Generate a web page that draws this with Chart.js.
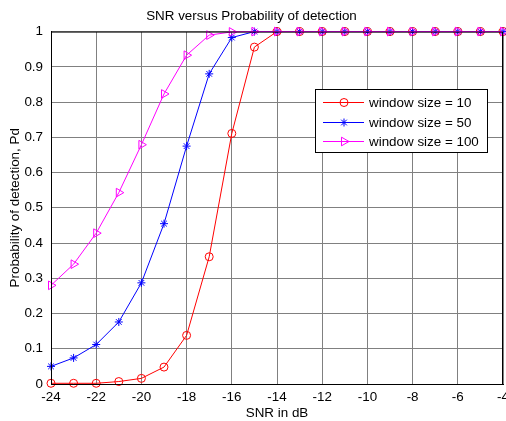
<!DOCTYPE html>
<html lang="en">
<head>
<meta charset="UTF-8">
<title>SNR versus Probability of detection</title>
<script src="https://cdn.jsdelivr.net/npm/chart.js"></script>
<style>
  body { margin:0; background:#fff; }
  #wrap { width:506px; height:421px; }
</style>
</head>
<body>
<div id="wrap"><canvas id="pdChart"></canvas></div>
<script>
// SNR values (dB)
const snr = [-24, -23, -22, -21, -20, -19, -18, -17, -16, -15, -14, -13, -12, -11, -10, -9, -8, -7, -6, -5, -4];
// probability of detection
const pd_w10  = [0.002, 0.002, 0.002, 0.007, 0.016, 0.048, 0.138, 0.361, 0.711, 0.956, 1, 1, 1, 1, 1, 1, 1, 1, 1, 1, 1];
const pd_w50  = [0.05, 0.074, 0.112, 0.176, 0.287, 0.455, 0.675, 0.88, 0.983, 1, 1, 1, 1, 1, 1, 1, 1, 1, 1, 1, 1];
const pd_w100 = [0.28, 0.34, 0.428, 0.543, 0.679, 0.823, 0.933, 0.99, 0.999, 1, 1, 1, 1, 1, 1, 1, 1, 1, 1, 1, 1];
const xTicks = [-24, -22, -20, -18, -16, -14, -12, -10, -8, -6, -4];
const yTicks = [0, 0.1, 0.2, 0.3, 0.4, 0.5, 0.6, 0.7, 0.8, 0.9, 1];

const FONT = 'Liberation Sans, Arial, sans-serif';
const FS = 13.4;

function pts(ys){
  return snr.map((x, i) => ({x: x, y: ys[i]}));
}

// box around the axes + legend inside the plot (matlab style)
const boxLegend = {
  id: 'boxLegend',
  afterDatasetsDraw(chart){
    const ctx = chart.ctx, a = chart.chartArea;
    ctx.save();
    ctx.strokeStyle = '#000';
    ctx.lineWidth = 1;
    ctx.strokeRect(a.left + 0.5, a.top + 0.5, a.right - a.left - 1, a.bottom - a.top);
    // legend
    const lx = Math.round(a.right - 188), ly = Math.round(a.top + 57), lw = 172, lh = 63;
    ctx.fillStyle = '#fff';
    ctx.fillRect(lx, ly, lw, lh);
    ctx.strokeRect(lx + 0.5, ly + 0.5, lw, lh);
    ctx.font = FS + 'px ' + FONT;
    ctx.textBaseline = 'middle';
    chart.data.datasets.forEach((ds, i) => {
      const y = Math.round(ly + 13 + i * 19.6) + 0.5;
      ctx.strokeStyle = ds.borderColor;
      ctx.lineWidth = 1;
      ctx.beginPath();
      ctx.moveTo(lx + 8, y);
      ctx.lineTo(lx + 49, y);
      ctx.stroke();
      ctx.fillStyle = 'rgba(0,0,0,0)';
      Chart.helpers.drawPoint(ctx, {
        pointStyle: ds.pointStyle,
        rotation: ds.pointRotation || 0,
        radius: ds.pointRadius,
        borderWidth: 1
      }, lx + 29, y);
      ctx.fillStyle = '#000';
      ctx.fillText(ds.label, lx + 54, y + 1);
    });
    ctx.restore();
  }
};

const config = {
  type: 'line',
  data: {
    datasets: [{
      label: 'window size = 10',
      data: pts(pd_w10),
      borderColor: '#ff0000',
      backgroundColor: 'rgba(0,0,0,0)',
      pointStyle: 'circle',
      pointRadius: 4,
      order: 3
    }, {
      label: 'window size = 50',
      data: pts(pd_w50),
      borderColor: '#0000ff',
      backgroundColor: 'rgba(0,0,0,0)',
      pointStyle: 'star',
      pointRadius: 4,
      order: 2
    }, {
      label: 'window size = 100',
      data: pts(pd_w100),
      borderColor: '#ff00ff',
      backgroundColor: 'rgba(0,0,0,0)',
      pointStyle: 'triangle',
      pointRotation: 90,
      pointRadius: 5,
      order: 1
    }]
  },
  options: {
    responsive: true,
    maintainAspectRatio: false,
    animation: false,
    events: [],
    layout: { autoPadding: false, padding: { left: 0, right: 3, top: 0, bottom: 0 } },
    elements: {
      line: { borderWidth: 1, tension: 0, fill: false },
      point: { borderWidth: 1, hoverRadius: 4 }
    },
    datasets: { line: { clip: false } },
    plugins: {
      legend: { display: false },
      tooltip: { enabled: false },
      title: {
        display: true,
        text: 'SNR versus Probability of detection',
        color: '#000',
        font: { family: FONT, size: FS, weight: 'normal' },
        padding: { top: 8.5, bottom: 7 }
      }
    },
    scales: {
      x: {
        type: 'linear',
        min: -24,
        max: -4,
        afterBuildTicks: s => { s.ticks = xTicks.map(v => ({value: v})); },
        afterFit: s => { s.height = 37; s.paddingLeft = 0; s.paddingRight = 0; },
        ticks: {
          color: '#000',
          font: { family: FONT, size: FS },
          padding: 5,
          maxRotation: 0,
          autoSkip: false,
          callback: v => String(v)
        },
        grid: { color: '#808080', drawTicks: false },
        border: { display: true, color: '#000', width: 1 },
        title: {
          display: true,
          text: 'SNR in dB',
          color: '#000',
          font: { family: FONT, size: FS },
          padding: { top: 0, bottom: 0 }
        }
      },
      y: {
        min: 0,
        max: 1,
        afterBuildTicks: s => { s.ticks = yTicks.map(v => ({value: v})); },
        afterFit: s => { s.width = 51; s.paddingTop = 0; s.paddingBottom = 0; },
        ticks: {
          color: '#000',
          font: { family: FONT, size: FS },
          padding: 8,
          autoSkip: false,
          callback: v => String(+v.toFixed(1))
        },
        grid: { color: '#808080', drawTicks: false },
        border: { display: true, color: '#000', width: 1 },
        title: {
          display: true,
          text: 'Probability of detection, Pd',
          color: '#000',
          font: { family: FONT, size: FS },
          padding: { top: 7, bottom: 0 }
        }
      }
    }
  },
  plugins: [boxLegend]
};

var pdChart = new Chart(document.getElementById('pdChart'), config);
</script>
</body>
</html>
